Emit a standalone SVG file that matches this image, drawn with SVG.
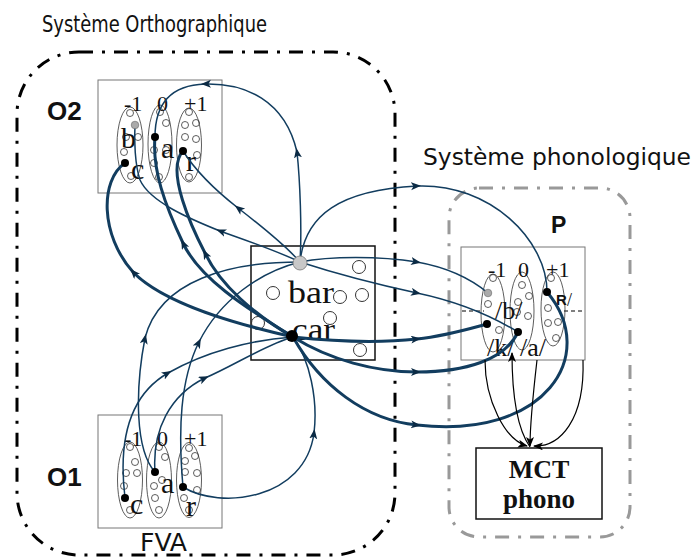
<svg xmlns="http://www.w3.org/2000/svg" width="697" height="557" viewBox="0 0 697 557">
<defs>
<style>
.sans{font-family:"DejaVu Sans Condensed","Liberation Sans",sans-serif;fill:#111}
.bold{font-family:"Liberation Sans",Arial,sans-serif;font-weight:bold;fill:#111}
.serif{font-family:"Liberation Serif","Times New Roman",serif;fill:#111}
.frame{fill:#fff;stroke:#777;stroke-width:1}
.ell{fill:none;stroke:#333;stroke-width:0.8}
.sc{fill:none;stroke:#333;stroke-width:0.8}
.bc{fill:none;stroke:#333;stroke-width:1}
.dot{fill:#000}
.thin{fill:none;stroke:#123d5f;stroke-width:1.5;marker-mid:url(#arr)}
.thick{fill:none;stroke:#123d5f;stroke-width:3;marker-mid:url(#arr)}
.blk{fill:none;stroke:#000;stroke-width:1.2;marker-end:url(#arrK)}
</style>
<marker id="arr" markerUnits="userSpaceOnUse" markerWidth="12" markerHeight="10" refX="6" refY="4" orient="auto">
<path d="M0,0 L10,4 L0,8 L2.5,4 z" fill="#0b2a44"/>
</marker>
<marker id="arrK" markerUnits="userSpaceOnUse" markerWidth="12" markerHeight="10" refX="9" refY="4" orient="auto">
<path d="M0,0 L10,4 L0,8 L2.5,4 z" fill="#000"/>
</marker>
</defs>
<rect width="697" height="557" fill="#fff"/>

<g id="systeme-ortho">
<rect x="17" y="52" width="378" height="503" rx="62" ry="62" fill="none" stroke="#000" stroke-width="3" stroke-dasharray="14,9,3,9"/>
<text class="sans" x="42" y="32" font-size="23" textLength="225" lengthAdjust="spacingAndGlyphs">Système Orthographique</text>
</g>

<g id="systeme-phono">
<rect x="449" y="188" width="181" height="349" rx="30" ry="30" fill="none" stroke="#999" stroke-width="3" stroke-dasharray="14,9,3,9"/>
<text class="sans" x="423" y="165" font-size="23" textLength="268" lengthAdjust="spacingAndGlyphs">Système phonologique</text>
</g>

<g id="O2">
<text class="bold" x="47" y="120" font-size="26">O2</text>
<rect class="frame" x="98" y="80" width="124" height="113"/>
<ellipse class="ell" cx="130" cy="145" rx="13" ry="38"/>
<ellipse class="ell" cx="160" cy="144" rx="12" ry="39"/>
<ellipse class="ell" cx="189" cy="145" rx="12.5" ry="37"/>
<g class="sc">
<circle cx="130" cy="113" r="3.5"/><circle cx="126" cy="137" r="3.5"/><circle cx="138" cy="137" r="3.5"/><circle cx="124" cy="152" r="3.5"/><circle cx="131" cy="176" r="3.5"/>
<circle cx="160" cy="112" r="3.5"/><circle cx="166" cy="123" r="3.5"/><circle cx="154" cy="150" r="3.5"/><circle cx="166" cy="150" r="3.5"/><circle cx="154" cy="163" r="3.5"/><circle cx="159" cy="177" r="3.5"/>
<circle cx="189" cy="112" r="3.5"/><circle cx="196" cy="123" r="3.5"/><circle cx="185" cy="125" r="3.5"/><circle cx="185" cy="137" r="3.5"/><circle cx="196" cy="139" r="3.5"/><circle cx="197" cy="155" r="3.5"/><circle cx="189" cy="177" r="3.5"/>
</g>
<text class="serif" x="124" y="111" font-size="22">-1</text>
<text class="serif" x="157" y="111" font-size="22">0</text>
<text class="serif" x="184" y="111" font-size="22">+1</text>
<text class="serif" x="121" y="148" font-size="30">b</text>
<text class="serif" x="131" y="179" font-size="30">c</text>
<text class="serif" x="161" y="158" font-size="30">a</text>
<text class="serif" x="186" y="171" font-size="30">r</text>
</g>

<g id="O1">
<text class="bold" x="47" y="486" font-size="26">O1</text>
<rect class="frame" x="98" y="415" width="124" height="113"/>
<ellipse class="ell" cx="130" cy="480" rx="12.5" ry="38"/>
<ellipse class="ell" cx="159" cy="480" rx="12.5" ry="38"/>
<ellipse class="ell" cx="189" cy="480" rx="12.5" ry="37.5"/>
<g class="sc">
<circle cx="130" cy="447" r="3.5"/><circle cx="135" cy="462" r="3.5"/><circle cx="126" cy="473" r="3.5"/><circle cx="137" cy="473" r="3.5"/><circle cx="124" cy="486" r="3.5"/><circle cx="130" cy="510" r="3.5"/>
<circle cx="159" cy="447" r="3.5"/><circle cx="165" cy="457" r="3.5"/><circle cx="162" cy="480" r="3.5"/><circle cx="154" cy="486" r="3.5"/><circle cx="155" cy="498" r="3.5"/><circle cx="159" cy="510" r="3.5"/>
<circle cx="189" cy="448" r="3.5"/><circle cx="195" cy="456" r="3.5"/><circle cx="185" cy="461" r="3.5"/><circle cx="185" cy="472" r="3.5"/><circle cx="197" cy="473" r="3.5"/><circle cx="197" cy="490" r="3.5"/><circle cx="184" cy="498" r="3.5"/><circle cx="189" cy="510" r="3.5"/>
</g>
<text class="serif" x="124" y="446" font-size="22">-1</text>
<text class="serif" x="157" y="446" font-size="22">0</text>
<text class="serif" x="184" y="446" font-size="22">+1</text>
<text class="serif" x="130" y="514" font-size="30">c</text>
<text class="serif" x="161" y="493" font-size="30">a</text>
<text class="serif" x="186" y="516" font-size="30">r</text>
<text class="sans" x="140" y="551" font-size="24" textLength="47" lengthAdjust="spacingAndGlyphs">FVA</text>
</g>

<g id="bar-car">
<rect x="251" y="246" width="124" height="114" fill="#fff" stroke="#111" stroke-width="1.5"/>
<circle class="bc" cx="359" cy="267" r="6.5"/>
<circle class="bc" cx="273" cy="293" r="6.5"/>
<circle class="bc" cx="340" cy="297" r="6.5"/>
<circle class="bc" cx="362" cy="295" r="6.5"/>
<circle class="bc" cx="258" cy="323" r="6.5"/>
<circle class="bc" cx="330" cy="318" r="6.5"/>
<circle class="bc" cx="360" cy="350" r="6.5"/>
<text class="serif" x="288" y="303" font-size="32" textLength="46" lengthAdjust="spacingAndGlyphs">bar</text>
<text class="serif" x="292" y="340" font-size="32" textLength="43" lengthAdjust="spacingAndGlyphs">car</text>
</g>

<g id="P">
<text class="bold" x="551" y="233" font-size="23">P</text>
<rect class="frame" x="461" y="247" width="124" height="113"/>
<line x1="462" y1="311" x2="484" y2="311" stroke="#000" stroke-width="1" stroke-dasharray="4,3"/>
<line x1="564" y1="311" x2="585" y2="311" stroke="#000" stroke-width="1" stroke-dasharray="4,3"/>
<ellipse class="ell" cx="493" cy="313" rx="12" ry="39"/>
<ellipse class="ell" cx="522" cy="311" rx="12" ry="39"/>
<ellipse class="ell" cx="553" cy="309" rx="12" ry="37"/>
<g class="sc">
<circle cx="493" cy="278" r="3.5"/><circle cx="488" cy="304" r="3.5"/><circle cx="499" cy="330" r="3.5"/>
<circle cx="522" cy="285" r="3.5"/><circle cx="529" cy="296" r="3.5"/><circle cx="518" cy="302" r="3.5"/><circle cx="517" cy="312" r="3.5"/><circle cx="528" cy="316" r="3.5"/>
<circle cx="551" cy="278" r="3.5"/><circle cx="548" cy="308" r="3.5"/><circle cx="558" cy="322" r="3.5"/><circle cx="548" cy="323" r="3.5"/><circle cx="556" cy="338" r="3.5"/>
</g>
<text class="serif" x="488" y="277" font-size="22">-1</text>
<text class="serif" x="518" y="277" font-size="22">0</text>
<text class="serif" x="546" y="277" font-size="22">+1</text>
<text class="serif" x="495" y="319" font-size="26">/b/</text>
<text class="serif" x="487" y="356" font-size="26">/k/</text>
<text class="serif" x="520" y="356" font-size="26">/a/</text>
<text class="bold" x="556" y="305" font-size="15">R</text>
<text class="serif" x="567" y="306" font-size="18">/</text>
</g>

<g id="MCT">
<rect x="476" y="448" width="126" height="71" fill="#fff" stroke="#111" stroke-width="1.5"/>
<text class="serif" x="539" y="478" font-size="26" font-weight="bold" text-anchor="middle">MCT</text>
<text class="serif" x="539" y="508" font-size="27" font-weight="bold" text-anchor="middle">phono</text>
</g>

<g id="connectors">
<path class="thin" d="M300,262 C302,230 300,180 297,152 C285,100 245,83 205,84 C175,85 155,100 155,137"/>
<path class="thin" d="M300,262 C275,250 245,240 220,231 C190,219 150,202 140,180"/>
<path class="thin" d="M140,180 C135,165 134,140 135,125" style="marker-mid:none"/>
<path class="thin" d="M300,262 C285,245 260,225 238,208 C215,190 195,170 183,151"/>
<path class="thin" d="M300,262 C330,256 380,256 417,262 C445,267 470,278 488,293"/>
<path class="thin" d="M300,262 C340,275 380,285 417,293 C455,301 490,315 518,332"/>
<path class="thin" d="M300,262 C305,215 340,190 417,186 C490,183 547,240 547,292"/>
<path class="thin" d="M155,472 C135,450 135,390 145,338 C160,280 230,262 300,262"/>
<path class="thin" d="M183,487 C178,430 180,380 199,342 C220,300 260,272 300,262"/>
<path class="thin" d="M125,498 C118,440 130,395 168,373 C205,352 250,340 293,337"/>
<path class="thin" d="M155,472 C152,430 170,395 205,378 C235,365 265,345 293,337"/>
<path class="thin" d="M183,487 C220,510 305,500 314,433 C318,400 310,360 293,337"/>
<path class="thick" d="M293,337 C240,325 165,305 133,272 C100,235 100,180 125,163"/>
<path class="thick" d="M293,337 C250,310 200,280 183,243 C165,205 152,170 155,137"/>
<path class="thick" d="M293,337 C255,315 220,285 205,253 C192,228 165,170 183,151"/>
<path class="thick" d="M293,337 C340,342 380,343 417,339 C445,336 465,330 487,324"/>
<path class="thick" d="M293,337 C330,360 375,372 417,372 C465,372 505,360 518,332"/>
<path class="thick" d="M293,337 C320,385 365,420 417,425 C545,440 600,355 547,292"/>
<path class="blk" d="M485,360 C485,400 505,440 527,446"/>
<path class="blk" d="M530,447 C518,430 512,400 512,353"/>
<path class="blk" d="M537,360 C533,395 530,425 530,446"/>
<path class="blk" d="M583,360 C585,420 560,447 534,446"/>
</g>

<g id="dots">
<circle class="dot" cx="125" cy="163" r="4"/>
<circle class="dot" cx="155" cy="137" r="4"/>
<circle class="dot" cx="183" cy="151" r="4"/>
<circle cx="135" cy="125" r="3.8" fill="#aaa" stroke="#666" stroke-width="0.6"/>
<circle class="dot" cx="125" cy="498" r="4"/>
<circle class="dot" cx="155" cy="472" r="4"/>
<circle class="dot" cx="183" cy="487" r="4"/>
<circle cx="300" cy="263" r="7" fill="#c8c8c8" stroke="#777" stroke-width="0.8"/>
<circle class="dot" cx="292" cy="336" r="6"/>
<circle cx="488" cy="293" r="3.8" fill="#aaa" stroke="#666" stroke-width="0.6"/>
<circle class="dot" cx="547" cy="292" r="4"/>
<circle class="dot" cx="487" cy="324" r="4"/>
<circle class="dot" cx="518" cy="332" r="4"/>
</g>
</svg>
